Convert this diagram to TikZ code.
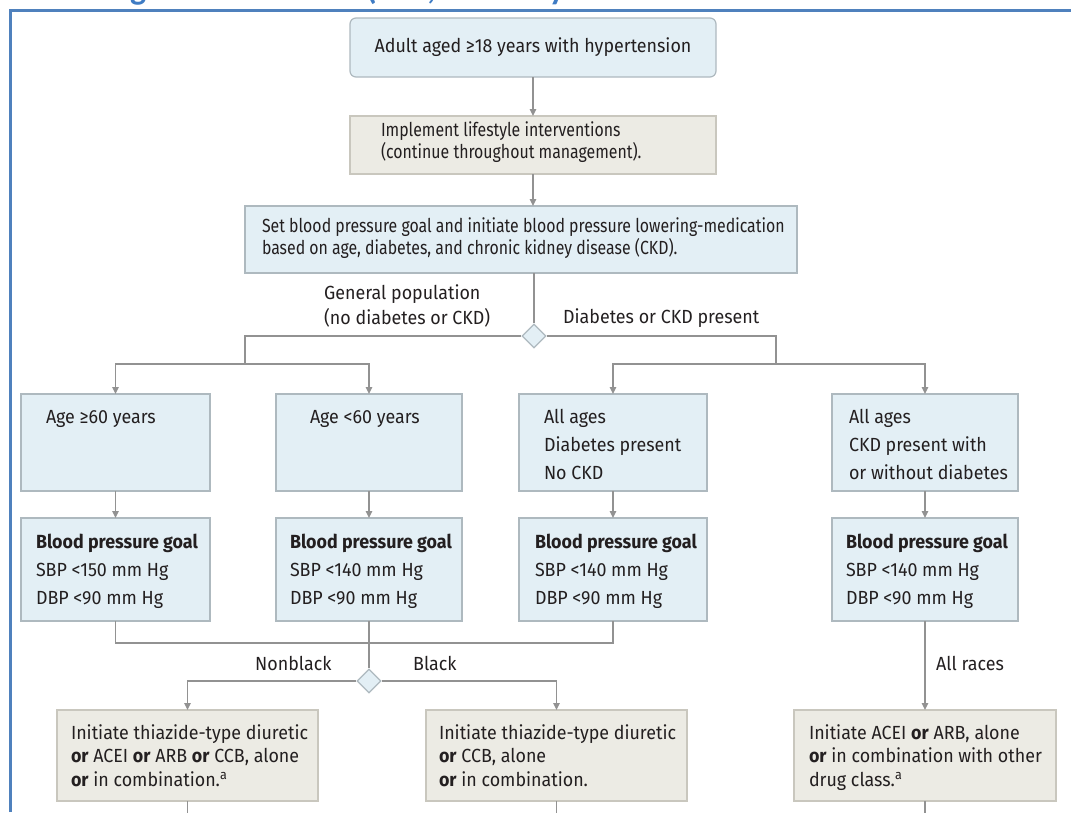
\documentclass[tikz,border=0pt]{standalone}
\usepackage{fontspec}
\setmainfont{Fira Sans}[FakeStretch=0.94]
\newfontfamily\narrowfont{Fira Sans}[FakeStretch=0.835]
\newfontfamily\titlefont{Carlito}
\usetikzlibrary{arrows.meta,shapes.geometric}
\definecolor{bluefill}{HTML}{E3EFF5}
\definecolor{blueedge}{HTML}{AEB9BF}
\definecolor{beigefill}{HTML}{ECEBE4}
\definecolor{beigeedge}{HTML}{C9C7BE}
\definecolor{linec}{HTML}{929292}
\definecolor{txt}{HTML}{231F20}
\definecolor{framec}{HTML}{4F81BD}
\definecolor{titlec}{HTML}{3F7CC4}
\newcommand{\bxt}[6]{\parbox[c][#2][t]{#1}{\raggedright\leftskip=#3\relax\baselineskip=#5\relax\rule{0pt}{#4}#6}}
\begin{document}
\begin{tikzpicture}[x=1pt,y=-1pt,
  font=\fontsize{19pt}{23pt}\selectfont, text=txt,
  conn/.style={draw=linec, line width=1.3pt},
  arr/.style={conn, -{Triangle[length=7pt,width=6.5pt]}},
  bluebox/.style={draw=blueedge, fill=bluefill, line width=1.2pt, inner sep=0pt, outer sep=0pt, anchor=north west},
  beigebox/.style={draw=beigeedge, fill=beigefill, line width=1.2pt, inner sep=0pt, outer sep=0pt, anchor=north west},
  dia/.style={diamond, aspect=1, draw=blueedge, fill=bluefill, line width=1.2pt, minimum width=24pt, minimum height=24pt, inner sep=0pt},
  lbl/.style={anchor=west, inner sep=0pt},
  frag/.style={anchor=base west, inner sep=0pt, text=titlec, font=\titlefont\bfseries\fontsize{34pt}{36pt}\selectfont}]
\useasboundingbox (0,0) rectangle (1071,812);
% cut-off title
\begin{scope}
\clip (0,0) rectangle (1071,8.5);
\node[frag] (tg) at (130,-1) {g};
\node[frag] (tj) at (366,-1) {(J};
\node[frag] (tc) at (427,-1) {,};
\node[frag] (ty) at (549,-1) {y};
\end{scope}
% frame
\draw[framec, line width=3pt] (10,812) -- (10,10) -- (1071,10);

% top boxes
\node[bluebox, rounded corners=6pt, minimum width=366pt, minimum height=59pt, anchor=center] (start) at (533,47.5) {Adult aged ≥18 years with hypertension};
\node[beigebox] (life) at (350,116) {\bxt{366pt}{58pt}{31pt}{20pt}{22pt}{\narrowfont Implement lifestyle interventions\\(continue throughout management).}};
\node[bluebox] (setbp) at (245,206) {\bxt{552pt}{67pt}{17pt}{26pt}{22pt}{\narrowfont Set blood pressure goal and initiate blood pressure lowering-medication\\based on age, diabetes, and chronic kidney disease (CKD).}};
\node[dia] (d1) at (534,336) {};

\draw[arr] (start.south) -- (life.north);
\draw[arr] (life.south) -- (life.south |- setbp.north);
\draw[conn] (setbp.south -| d1) -- (d1.north);

\node[lbl, align=left, font=\fontsize{19pt}{24.5pt}\selectfont] (gp) at (324,306) {General population\\(no diabetes or CKD)};
\node[lbl] (dk) at (563,318) {Diabetes or CKD present};

% row 1
\node[bluebox] (A1) at (21,394) {\bxt{189pt}{97pt}{25pt}{29pt}{28pt}{Age ≥60 years}};
\node[bluebox] (B1) at (276,394) {\bxt{186pt}{97pt}{34pt}{29pt}{28pt}{Age <60 years}};
\node[bluebox] (C1) at (519,394) {\bxt{188pt}{97pt}{25pt}{29pt}{28pt}{All ages\\Diabetes present\\No CKD}};
\node[bluebox] (D1) at (832,394) {\bxt{186pt}{97pt}{17pt}{29pt}{28pt}{All ages\\CKD present with\\or without diabetes}};

\coordinate (jl) at (245,364);
\coordinate (jr) at (776,364);
\draw[conn] (d1.west) -| (jl);
\draw[arr] (jl) -| (A1.north);
\draw[arr] (jl) -| (B1.north);
\draw[conn] (d1.east) -| (jr);
\draw[arr] (jr) -| (C1.north);
\draw[arr] (jr) -| (D1.north);

% row 2
\node[bluebox] (A2) at (21,518) {\bxt{189pt}{103pt}{15pt}{30pt}{28pt}{\textbf{Blood pressure goal}\\SBP <150 mm Hg\\DBP <90 mm Hg}};
\node[bluebox] (B2) at (276,518) {\bxt{186pt}{103pt}{14pt}{30pt}{28pt}{\textbf{Blood pressure goal}\\SBP <140 mm Hg\\DBP <90 mm Hg}};
\node[bluebox] (C2) at (519,518) {\bxt{188pt}{103pt}{16pt}{30pt}{28pt}{\textbf{Blood pressure goal}\\SBP <140 mm Hg\\DBP <90 mm Hg}};
\node[bluebox] (D2) at (832,518) {\bxt{186pt}{103pt}{14pt}{30pt}{28pt}{\textbf{Blood pressure goal}\\SBP <140 mm Hg\\DBP <90 mm Hg}};

\draw[arr] (A1.south) -- (A2.north);
\draw[arr] (B1.south) -- (B2.north);
\draw[arr] (C1.south) -- (C2.north);
\draw[arr] (D1.south) -- (D2.north);

% merge and race split
\path (B2.south) ++(0,22) coordinate (mg);
\path (B2.south) ++(0,60) node[dia] (d2) {};
\draw[conn] (A2.south) |- (mg);
\draw[conn] (C2.south) |- (mg);
\draw[conn] (B2.south) -- (d2.north);

\node[lbl] (nb) at (255,663) {Nonblack};
\node[lbl] (bl) at (413,663) {Black};
\node[lbl] (ar) at (936,663) {All races};

% bottom boxes
\node[beigebox] (E1) at (57,710) {\bxt{261pt}{91pt}{14pt}{29pt}{23.5pt}{Initiate thiazide-type diuretic\\\textbf{or} ACEI \textbf{or} ARB \textbf{or} CCB, alone\\\textbf{or} in combination.\textsuperscript{a}}};
\node[beigebox] (E2) at (426,710) {\bxt{261pt}{91pt}{13pt}{29pt}{23.5pt}{Initiate thiazide-type diuretic\\\textbf{or} CCB, alone\\\textbf{or} in combination.}};
\node[beigebox] (E3) at (794,710) {\bxt{262pt}{91pt}{15pt}{29pt}{23.5pt}{Initiate ACEI \textbf{or} ARB, alone\\\textbf{or} in combination with other\\drug class.\textsuperscript{a}}};

\draw[arr] (d2.west) -| (E1.north);
\draw[arr] (d2.east) -| (E2.north);
\draw[arr] (D2.south) -- (E3.north);

\draw[conn] (E1.south) -- ++(0,12) coordinate (E1out);
\draw[conn] (E2.south) -- ++(0,12) coordinate (E2out);
\draw[conn] (E3.south) -- ++(0,12) coordinate (E3out);
\end{tikzpicture}
\end{document}
